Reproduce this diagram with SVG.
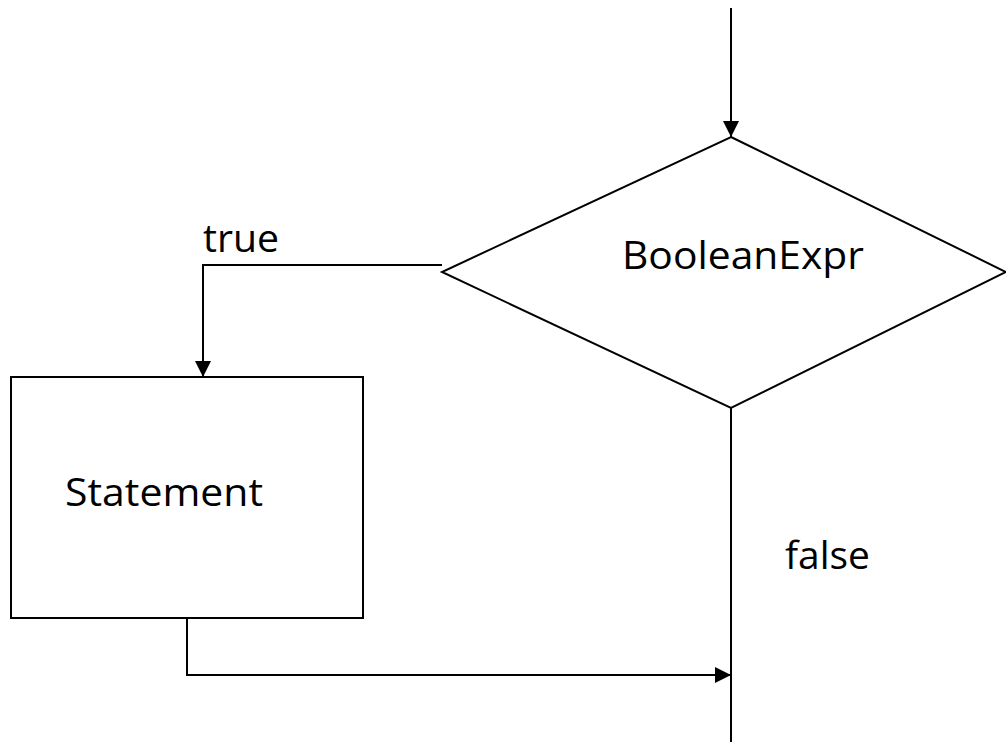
<svg xmlns="http://www.w3.org/2000/svg" width="1006" height="742" viewBox="0 0 1006 742">
  <style>
    .shape { fill: #ffffff; stroke: #000000; stroke-width: 2; }
    .wire { fill: none; stroke: #000000; stroke-width: 2; }
    .label { font-family: "Open Sans", "Noto Sans", sans-serif; font-size: 38px; fill: #000000; }
  </style>
  <defs>
    <marker id="arrow" markerUnits="userSpaceOnUse" markerWidth="16" markerHeight="16" refX="16" refY="8" orient="auto">
      <path d="M0,0 L16,8 L0,16 Z" fill="#000000"/>
    </marker>
  </defs>

  <rect width="1006" height="742" fill="#ffffff"/>

  <g id="decision">
    <polygon class="shape" points="731,137 1006,272 731,408 442,272"/>
    <text class="label" x="622" y="269" textLength="242" lengthAdjust="spacingAndGlyphs">BooleanExpr</text>
  </g>

  <g id="statement">
    <rect class="shape" x="11" y="377" width="352" height="241"/>
    <text class="label" x="65" y="506" textLength="198" lengthAdjust="spacingAndGlyphs">Statement</text>
  </g>

  <g id="connectors">
    <line class="wire" x1="731" y1="8" x2="731" y2="137" marker-end="url(#arrow)"/>
    <polyline class="wire" points="442,265 203,265 203,377" marker-end="url(#arrow)"/>
    <polyline class="wire" points="187,618 187,675 731,675" marker-end="url(#arrow)"/>
    <line class="wire" x1="731" y1="408" x2="731" y2="742"/>
  </g>

  <g id="edge-labels">
    <text class="label" x="203" y="252" textLength="76" lengthAdjust="spacingAndGlyphs">true</text>
    <text class="label" x="785" y="569" textLength="85" lengthAdjust="spacingAndGlyphs">false</text>
  </g>
</svg>
